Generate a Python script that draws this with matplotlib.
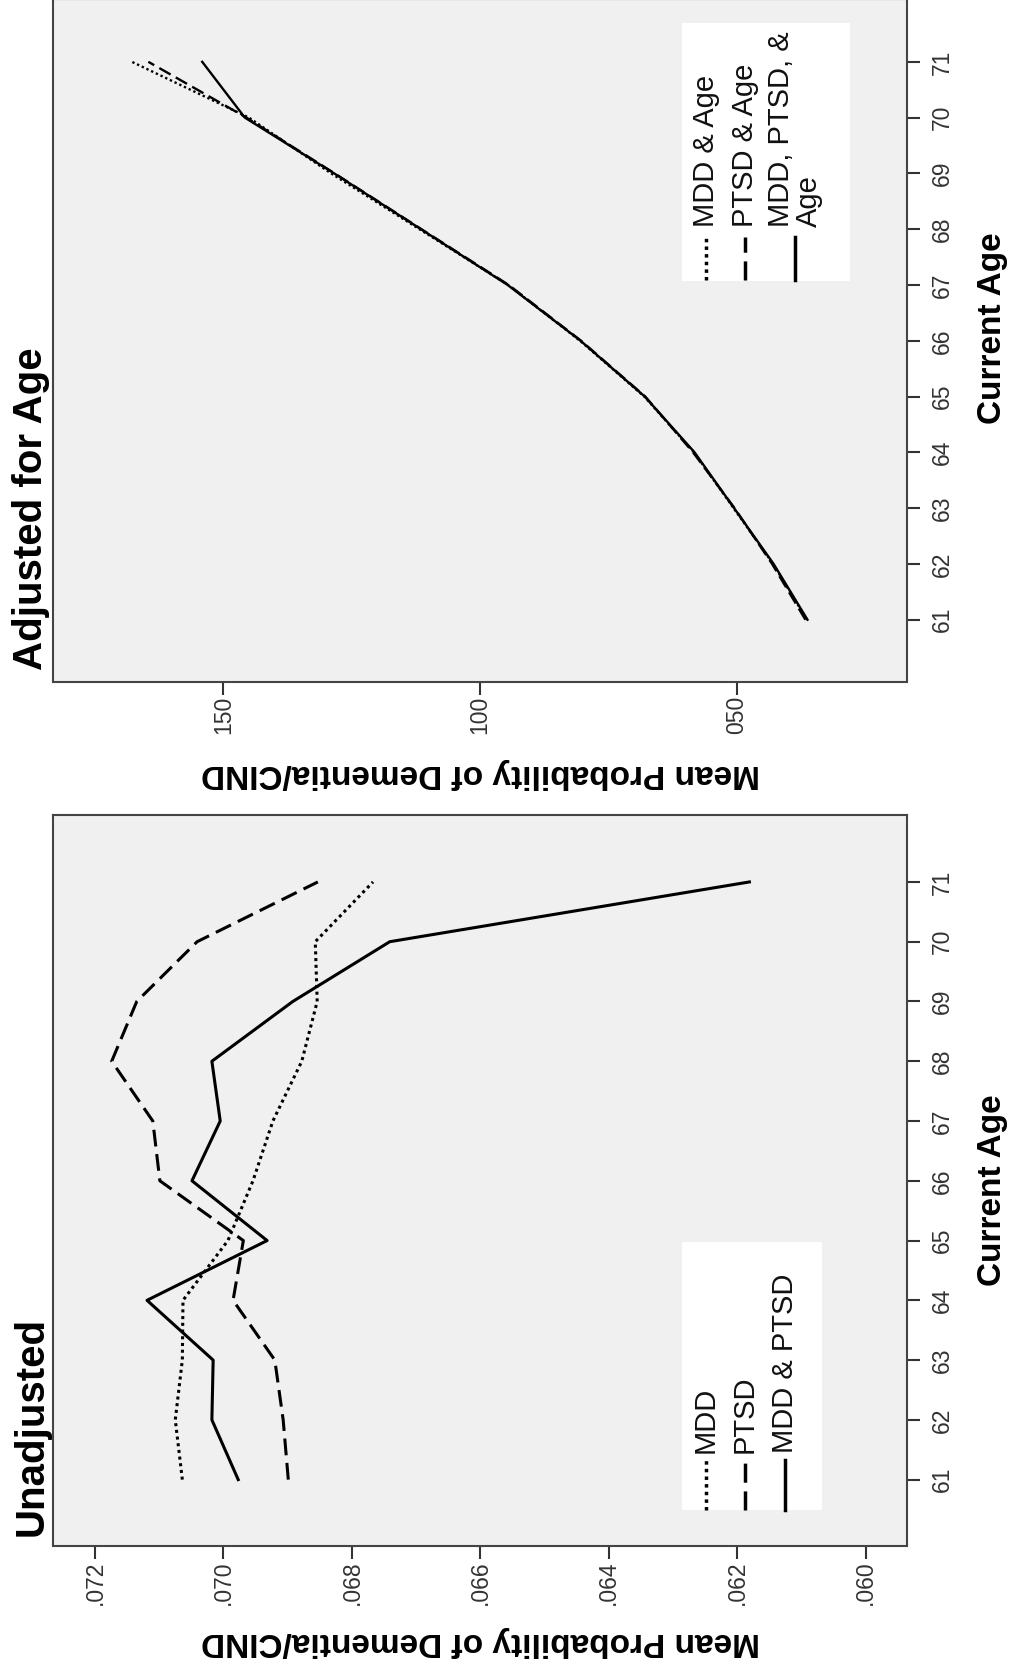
import matplotlib
matplotlib.use("Agg")
import matplotlib.pyplot as plt
from matplotlib.lines import Line2D
from matplotlib.patches import Rectangle

plt.rcParams["font.family"] = ["Liberation Sans", "DejaVu Sans"]

# ---- data ----
ages = [61, 62, 63, 64, 65, 66, 67, 68, 69, 70, 71]
age_labels = ["61", "62", "63", "64", "65", "66", "67", "68", "69", "70", "71"]

# unadjusted mean probabilities
unadj_mdd = [.07064, .07075, .07064, .07063, .06993, .06954, .06923, .06878, .06854, .06857, .06767]
unadj_ptsd = [.06899, .06907, .06920, .06985, .06969, .07099, .07110, .07174, .07135, .07041, .06853]
unadj_both = [.06977, .07018, .07016, .07119, .06932, .07049, .07005, .07018, .06892, .06741, .06181]
unadj_names = ["MDD", "PTSD", "MDD & PTSD"]
unadj_ticks = [.072, .070, .068, .066, .064, .062, .060]
unadj_ticklabels = [".072", ".070", ".068", ".066", ".064", ".062", ".060"]

# adjusted for age
adj_mdd = [.0363, .0429, .0506, .0583, .0680, .0805, .0945, .1118, .1290, .1450, .1678]
adj_ptsd = [.0366, .0431, .0504, .0585, .0678, .0803, .0944, .1114, .1283, .1455, .1646]
adj_both = [.0362, .0428, .0505, .0582, .0679, .0804, .0946, .1115, .1284, .1458, .1541]
adj_names = ["MDD & Age", "PTSD & Age", "MDD, PTSD, &\nAge"]
adj_ticks = [.150, .100, .050]
adj_ticklabels = ["150", "100", "050"]

styles = [(0, (1, 1.2)), (0, (5.5, 2.5)), "-"]


def rotated_legend(ax, names, box, xs, sample_y, text_y, lw):
    # legend drawn sideways, like the rest of the page
    x0, x1, y0, y1 = box
    ax.add_patch(Rectangle((x0, y0), x1 - x0, y1 - y0, transform=ax.transAxes,
                           facecolor="white", edgecolor="none", zorder=5))
    for x, name, ls in zip(xs, names, styles):
        ax.add_line(Line2D([x, x], sample_y, transform=ax.transAxes, color="black",
                           lw=lw, linestyle=ls, zorder=6))
        ax.text(x, text_y, name, transform=ax.transAxes, rotation=90, ha="center",
                va="bottom", fontsize=21, multialignment="left", linespacing=1.0,
                color="#111111", zorder=6)


def panel(ax, series, ticks, ticklabels, xlim, title, lw, title_y, xlabel_y, ylabel_y):
    for vals, ls in zip(series, styles):
        ax.plot(vals, ages, color="black", lw=lw, linestyle=ls)
    ax.set_facecolor("#f0f0f0")
    ax.set_xlim(*xlim)
    ax.set_ylim(59.89, 72.12)
    for sp in ax.spines.values():
        sp.set_color("#444444")
        sp.set_linewidth(1.5)

    ax.set_xticks(ticks)
    ax.set_xticklabels(ticklabels, rotation=90, fontsize=16.5, color="#333333")
    ax.tick_params(axis="x", length=9, width=1.5, pad=1.5, colors="#333333")

    ax.yaxis.tick_right()
    ax.set_yticks(ages)
    ax.set_yticklabels(age_labels, rotation=90, va="center", fontsize=16.5, color="#333333")
    ax.tick_params(axis="y", length=9, width=1.5, pad=8, colors="#333333")

    ax.set_xlabel("Mean Probability of Dementia/CIND", fontsize=24, fontweight="bold",
                  rotation=180)
    ax.xaxis.set_label_coords(0.5, xlabel_y)
    ax.xaxis.label.set_va("center")

    ax.yaxis.set_label_position("right")
    ax.set_ylabel("Current Age", fontsize=24, fontweight="bold", rotation=90)
    ax.yaxis.set_label_coords(1.100, ylabel_y)
    ax.yaxis.label.set_va("center")
    ax.yaxis.label.set_ha("center")

    ax.text(-0.0248, title_y, title, transform=ax.transAxes, rotation=90, ha="center",
            va="bottom", fontsize=29, fontweight="bold")


fig = plt.figure(figsize=(10.13, 16.67), dpi=100)

ax_adj = fig.add_axes([0.052, 0.5911, 0.8438, 0.4093])
panel(ax_adj, [adj_mdd, adj_ptsd, adj_both], adj_ticks, adj_ticklabels,
      (0.18323, 0.01673), "Adjusted for Age", 1.7, 0.0171, -0.134, 0.518)
rotated_legend(ax_adj, adj_names, (0.7357, 0.9332, 0.5872, 0.9657),
               [0.7638, 0.8099, 0.8680], [0.5884, 0.6517], 0.666, 2.5)

ax_un = fig.add_axes([0.052, 0.0726, 0.8438, 0.4385])
panel(ax_un, [unadj_mdd, unadj_ptsd, unadj_both], unadj_ticks, unadj_ticklabels,
      (0.072659, 0.059349), "Unadjusted", 2.2, 0.0137, -0.131, 0.487)
rotated_legend(ax_un, unadj_names, (0.7357, 0.8995, 0.0492, 0.4163),
               [0.7638, 0.8099, 0.8563], [0.0492, 0.1176], 0.1272, 2.5)

fig.savefig("out.png", dpi=100)
plt.close(fig)
